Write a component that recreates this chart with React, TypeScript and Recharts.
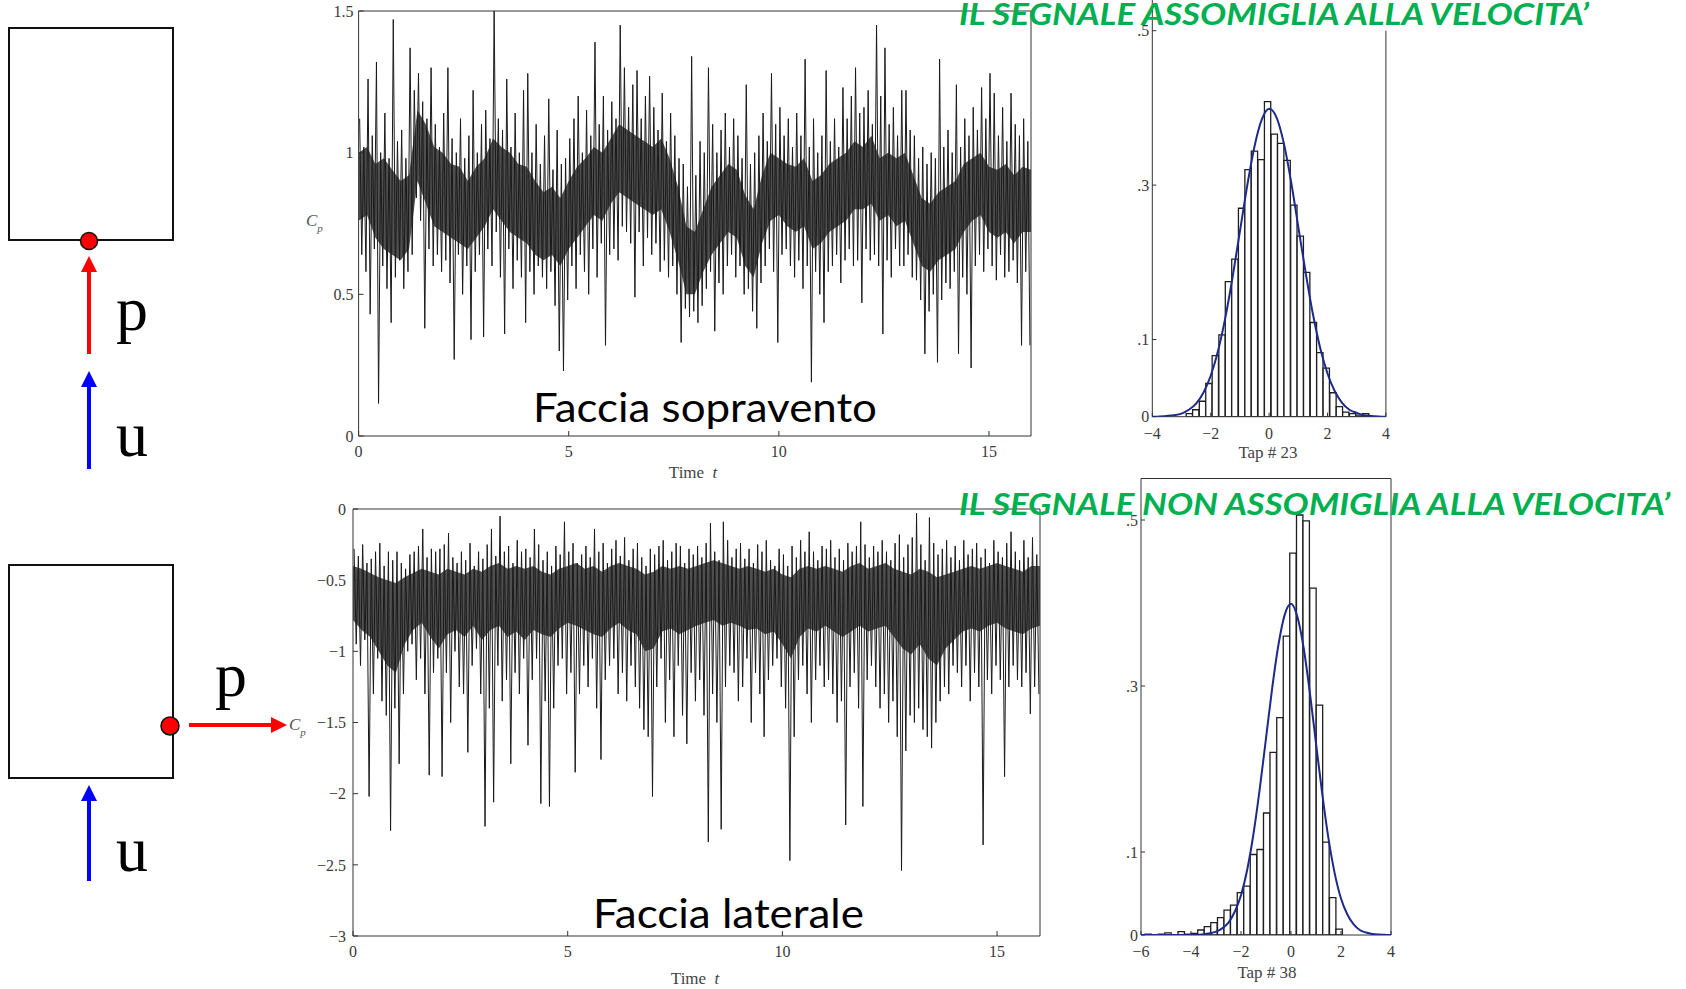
import React from "react";
import { Area, Bar, ComposedChart, Line, XAxis, YAxis } from "recharts";

const serif = "'Liberation Serif', 'DejaVu Serif', serif";
const sans = "Lato, 'Open Sans', sans-serif";
const axisColor = "#333";
const tickFont = { fontSize: 16, fontFamily: serif, fill: "#3a3a3a" };
const green = "#00b050";

const minus = (v: number) => String(v).replace("-", "\u2212");
const shortFrac = (v: number) => (v === 0 ? "0" : String(v).replace("0.", "."));

// Cp on the upwind face: max and min inside each 0.1 s slice of the record
const sopraHi = [
  1.12, 1.02, 1.26, 1.06, 1.32, 1.0, 1.14, 0.98, 1.47, 1.04,
  1.08, 0.98, 1.37, 1.22, 1.28, 1.18, 1.12, 1.3, 1.1, 1.02,
  1.14, 1.3, 1.05, 1.0, 1.12, 0.98, 1.06, 1.22, 1.0, 1.1,
  1.15, 1.05, 1.5, 1.12, 1.08, 1.26, 1.02, 1.14, 1.0, 1.22,
  1.28, 1.0, 1.1, 0.96, 1.06, 1.19, 0.94, 1.08, 0.96, 0.98,
  1.05, 1.12, 1.2, 1.0, 1.15, 1.06, 1.39, 1.1, 1.2, 1.08,
  1.18, 1.12, 1.45, 1.3, 1.16, 1.24, 1.29, 1.12, 1.2, 1.27,
  1.16, 1.08, 1.21, 1.04, 1.14, 1.06, 0.98, 0.96, 0.88, 1.34,
  0.92, 1.04, 1.0, 1.3, 1.1, 1.0, 1.08, 1.14, 1.02, 1.12,
  1.06, 0.98, 1.24, 0.96, 1.0, 1.06, 1.14, 1.04, 1.28, 1.1,
  1.16, 1.06, 1.12, 1.02, 1.14, 1.06, 1.33, 1.02, 1.12, 1.0,
  1.06, 1.29, 1.04, 1.12, 1.02, 1.23, 1.12, 1.2, 1.3, 1.14,
  1.16, 1.22, 1.1, 1.45, 1.2, 1.37, 1.1, 1.16, 1.06, 1.22,
  1.22, 1.08, 1.06, 0.98, 1.02, 0.96, 1.0, 0.98, 1.33, 1.02,
  1.08, 1.0, 1.24, 1.02, 1.12, 1.06, 1.16, 1.08, 1.23, 1.12,
  1.28, 1.21, 1.06, 1.16, 1.04, 1.21, 1.1, 1.06, 1.12, 1.04,
];
const sopraLo = [
  0.64, 0.58, 0.43, 0.66, 0.115, 0.6, 0.52, 0.4, 0.56, 0.62,
  0.52, 0.58, 0.64, 0.84, 0.76, 0.38, 0.66, 0.6, 0.64, 0.58,
  0.62, 0.54, 0.27, 0.64, 0.5, 0.6, 0.34, 0.58, 0.64, 0.35,
  0.66, 0.6, 0.72, 0.56, 0.36, 0.66, 0.52, 0.62, 0.56, 0.4,
  0.58, 0.5, 0.6, 0.56, 0.52, 0.58, 0.46, 0.3, 0.23, 0.48,
  0.6, 0.52, 0.64, 0.58, 0.5, 0.66, 0.56, 0.68, 0.32, 0.64,
  0.66, 0.62, 0.74, 0.72, 0.68, 0.49, 0.72, 0.6, 0.7, 0.64,
  0.68, 0.58, 0.62, 0.56, 0.6, 0.5, 0.33, 0.45, 0.42, 0.44,
  0.4, 0.46, 0.52, 0.58, 0.37, 0.54, 0.5, 0.6, 0.64, 0.56,
  0.6, 0.5, 0.52, 0.44, 0.38, 0.54, 0.6, 0.66, 0.58, 0.33,
  0.64, 0.66, 0.6, 0.56, 0.62, 0.52, 0.6, 0.19, 0.58, 0.5,
  0.4, 0.58, 0.6, 0.64, 0.54, 0.62, 0.66, 0.6, 0.62, 0.47,
  0.66, 0.62, 0.64, 0.6, 0.36, 0.62, 0.56, 0.66, 0.6, 0.6,
  0.64, 0.56, 0.55, 0.48, 0.29, 0.44, 0.5, 0.26, 0.48, 0.54,
  0.52, 0.58, 0.29, 0.56, 0.5, 0.24, 0.6, 0.64, 0.58, 0.66,
  0.6, 0.55, 0.64, 0.56, 0.58, 0.62, 0.54, 0.32, 0.58, 0.32,
];
// dense dark band of each trace, read every 0.2 s
const coreTimes = [
  0, 0.2, 0.4, 0.6, 0.8, 1, 1.2, 1.4, 1.6, 1.8, 2, 2.2, 2.4, 2.6, 2.8, 3, 3.2, 3.4, 3.6, 3.8,
  4, 4.2, 4.4, 4.6, 4.8, 5, 5.2, 5.4, 5.6, 5.8, 6, 6.2, 6.4, 6.6, 6.8, 7, 7.2, 7.4, 7.6, 7.8,
  8, 8.2, 8.4, 8.6, 8.8, 9, 9.2, 9.4, 9.6, 9.8, 10, 10.2, 10.4, 10.6, 10.8, 11, 11.2, 11.4, 11.6, 11.8,
  12, 12.2, 12.4, 12.6, 12.8, 13, 13.2, 13.4, 13.6, 13.8, 14, 14.2, 14.4, 14.6, 14.8, 15, 15.2, 15.4, 15.6, 15.8,
  16,
];
const sopraCoreHi = [
  1.0, 1.02, 0.96, 0.98, 0.94, 0.9, 0.92, 1.15, 1.1, 1.02, 1.0, 0.96, 0.95, 0.9, 0.95, 0.98, 1.05, 1.02, 1.0, 0.96,
  0.95, 0.9, 0.86, 0.88, 0.84, 0.9, 0.95, 0.98, 1.02, 1.0, 1.05, 1.1, 1.08, 1.06, 1.04, 1.02, 1.05, 0.98, 0.88, 0.74,
  0.72, 0.8, 0.88, 0.92, 0.96, 0.94, 0.85, 0.8, 0.92, 1.0, 0.98, 0.96, 0.95, 0.98, 0.9, 0.92, 0.96, 0.98, 1.0, 1.04,
  1.02, 1.06, 0.98, 1.0, 0.98, 1.0, 0.92, 0.84, 0.82, 0.86, 0.88, 0.9, 0.96, 0.98, 1.0, 0.95, 0.94, 0.96, 0.92, 0.95,
  0.94,
];
const sopraCoreLo = [
  0.76, 0.78, 0.7, 0.66, 0.64, 0.62, 0.66, 0.9, 0.82, 0.74, 0.72, 0.7, 0.68, 0.66, 0.7, 0.74, 0.8, 0.76, 0.72, 0.7,
  0.68, 0.64, 0.62, 0.64, 0.6, 0.66, 0.7, 0.74, 0.78, 0.76, 0.82, 0.86, 0.84, 0.82, 0.8, 0.78, 0.8, 0.72, 0.62, 0.5,
  0.5, 0.58, 0.64, 0.68, 0.72, 0.7, 0.6, 0.56, 0.68, 0.76, 0.78, 0.74, 0.72, 0.74, 0.66, 0.68, 0.72, 0.74, 0.76, 0.8,
  0.8, 0.82, 0.76, 0.78, 0.74, 0.76, 0.68, 0.6, 0.58, 0.62, 0.64, 0.66, 0.72, 0.76, 0.78, 0.72, 0.7, 0.72, 0.68, 0.72,
  0.72,
];

// Cp on the side face, same slicing
const lateraleHi = [
  -0.28, -0.33, -0.25, -0.38, -0.35, -0.3, -0.24, -0.4, -0.3, -0.36,
  -0.3, -0.38, -0.42, -0.32, -0.3, -0.26, -0.14, -0.34, -0.28, -0.3,
  -0.28, -0.25, -0.17, -0.34, -0.38, -0.3, -0.36, -0.24, -0.4, -0.3,
  -0.35, -0.25, -0.14, -0.33, -0.05, -0.3, -0.26, -0.38, -0.22, -0.3,
  -0.28, -0.34, -0.14, -0.25, -0.36, -0.3, -0.4, -0.26, -0.32, -0.09,
  -0.3, -0.24, -0.38, -0.32, -0.26, -0.34, -0.14, -0.3, -0.24, -0.38,
  -0.28, -0.22, -0.33, -0.2, -0.36, -0.28, -0.24, -0.34, -0.4, -0.28,
  -0.32, -0.26, -0.22, -0.36, -0.3, -0.24, -0.26, -0.38, -0.28, -0.32,
  -0.26, -0.34, -0.24, -0.1, -0.3, -0.36, -0.09, -0.22, -0.34, -0.28,
  -0.24, -0.35, -0.28, -0.38, -0.25, -0.3, -0.22, -0.36, -0.4, -0.28,
  -0.32, -0.4, -0.26, -0.34, -0.22, -0.3, -0.16, -0.3, -0.36, -0.26,
  -0.28, -0.22, -0.34, -0.28, -0.36, -0.24, -0.3, -0.26, -0.09, -0.25,
  -0.34, -0.26, -0.3, -0.22, -0.3, -0.36, -0.24, -0.18, -0.34, -0.25,
  -0.2, -0.03, -0.25, -0.36, -0.06, -0.24, -0.32, -0.28, -0.22, -0.34,
  -0.26, -0.36, -0.22, -0.32, -0.28, -0.24, -0.34, -0.28, -0.38, -0.22,
  -0.3, -0.34, -0.24, -0.16, -0.3, -0.36, -0.22, -0.34, -0.2, -0.32,
];
const lateraleLo = [
  -0.95, -1.1, -0.92, -2.02, -1.3, -1.05, -1.35, -1.45, -2.26, -1.4,
  -1.79, -1.3, -1.0, -0.95, -1.2, -1.05, -1.3, -1.87, -1.15, -1.05,
  -1.88, -1.15, -1.5, -1.0, -1.25, -1.3, -1.71, -1.1, -0.98, -1.3,
  -2.23, -1.4, -2.06, -1.1, -1.35, -1.2, -1.79, -1.15, -1.3, -1.05,
  -1.66, -1.2, -1.05, -2.07, -1.35, -2.09, -1.4, -1.1, -1.05, -1.3,
  -1.15, -1.85, -1.3, -1.1, -1.25, -1.05, -1.4, -1.76, -1.2, -1.1,
  -1.05, -1.3, -1.15, -1.35, -1.1, -1.25, -1.4, -1.55, -1.6, -2.02,
  -1.25, -1.05, -1.5, -1.2, -1.6, -1.1, -1.45, -1.65, -1.15, -1.35,
  -1.2, -1.45, -2.34, -1.3, -1.5, -2.25, -1.25, -1.1, -1.15, -1.35,
  -1.25, -1.05, -1.5, -1.15, -1.3, -1.6, -1.2, -1.1, -1.05, -1.25,
  -1.4, -2.47, -1.6, -1.2, -1.1, -1.3, -1.5, -1.2, -1.1, -1.25,
  -1.2, -1.3, -1.5, -1.35, -2.22, -1.25, -1.15, -1.4, -2.09, -1.2,
  -1.1, -1.25, -1.4, -1.3, -1.5, -1.35, -1.6, -2.54, -1.7, -1.45,
  -1.5, -1.4, -1.55, -1.6, -1.68, -1.5, -1.35, -1.25, -1.3, -1.1,
  -1.15, -1.25, -1.1, -1.35, -1.15, -1.25, -2.36, -1.2, -1.3, -1.1,
  -1.2, -1.88, -1.25, -1.1, -1.2, -1.25, -1.15, -1.44, -1.25, -1.3,
];
const lateraleCoreHi = [
  -0.4, -0.42, -0.45, -0.48, -0.5, -0.52, -0.48, -0.45, -0.42, -0.44, -0.46, -0.42, -0.44, -0.46, -0.42, -0.44, -0.4, -0.38, -0.42, -0.4,
  -0.42, -0.4, -0.44, -0.46, -0.42, -0.4, -0.38, -0.42, -0.4, -0.44, -0.4, -0.38, -0.4, -0.42, -0.46, -0.44, -0.4, -0.42, -0.4, -0.42,
  -0.4, -0.38, -0.36, -0.38, -0.4, -0.42, -0.4, -0.42, -0.44, -0.42, -0.46, -0.48, -0.42, -0.4, -0.42, -0.4, -0.42, -0.44, -0.4, -0.38,
  -0.42, -0.4, -0.38, -0.42, -0.44, -0.46, -0.42, -0.44, -0.48, -0.46, -0.44, -0.42, -0.4, -0.42, -0.4, -0.38, -0.4, -0.42, -0.44, -0.4,
  -0.4,
];
const lateraleCoreLo = [
  -0.78, -0.85, -0.9, -1.0, -1.1, -1.15, -0.95, -0.85, -0.8, -0.9, -0.98, -0.88, -0.85, -0.9, -0.82, -0.92, -0.85, -0.82, -0.9, -0.86,
  -0.92, -0.85, -0.88, -0.9, -0.84, -0.8, -0.82, -0.85, -0.88, -0.9, -0.84, -0.8, -0.85, -0.88, -1.0, -0.98, -0.86, -0.84, -0.88, -0.85,
  -0.82, -0.8, -0.78, -0.82, -0.8, -0.82, -0.85, -0.84, -0.88, -0.86, -0.95, -1.05, -0.9, -0.84, -0.86, -0.82, -0.86, -0.9, -0.86, -0.82,
  -0.86, -0.84, -0.82, -0.9, -0.98, -1.02, -0.95, -1.05, -1.1, -0.98, -0.92, -0.86, -0.84, -0.86, -0.82, -0.8, -0.84, -0.86, -0.88, -0.84,
  -0.82,
];

// Tap # 23 histogram
const tap23Bins = [
  -2.73, -2.51, -2.28, -2.06, -1.84, -1.61, -1.39, -1.17, -0.94, -0.72, -0.5, -0.27, -0.05, 0.18,
  0.4, 0.62, 0.85, 1.07, 1.29, 1.52, 1.74, 1.96, 2.19, 2.41, 2.63, 2.86, 3.08, 3.31,
];
const tap23Freq = [
  0.004, 0.009, 0.02, 0.043, 0.079, 0.106, 0.175, 0.204, 0.27, 0.32, 0.344, 0.333, 0.408, 0.366,
  0.354, 0.332, 0.274, 0.234, 0.187, 0.122, 0.083, 0.063, 0.031, 0.013, 0.006, 0.004, 0.002, 0.004,
];
const gauss23X = [
  -4, -3.75, -3.5, -3.25, -3, -2.75, -2.5, -2.25, -2, -1.75, -1.5, -1.25, -1, -0.75, -0.5, -0.25, 0,
  0.25, 0.5, 0.75, 1, 1.25, 1.5, 1.75, 2, 2.25, 2.5, 2.75, 3, 3.25, 3.5, 3.75, 4,
];
const gauss23Y = [
  0, 0.0004, 0.001, 0.002, 0.004, 0.009, 0.017, 0.031, 0.053, 0.085, 0.128, 0.181, 0.24, 0.299, 0.35, 0.385, 0.399,
  0.388, 0.355, 0.305, 0.246, 0.187, 0.133, 0.089, 0.056, 0.033, 0.018, 0.009, 0.005, 0.002, 0.001, 0.0004, 0,
];

// Tap # 38 histogram
const tap38Bins = [
  -5.71, -5.45, -5.18, -4.92, -4.66, -4.39, -4.13, -3.87, -3.6, -3.34, -3.08, -2.81, -2.55, -2.29, -2.02,
  -1.76, -1.5, -1.23, -0.97, -0.71, -0.44, -0.18, 0.08, 0.35, 0.61, 0.88, 1.14, 1.4, 1.67, 1.93,
];
const tap38Freq = [
  0.001, 0, 0.001, 0.0025, 0, 0.004, 0.001, 0.002, 0.006, 0.01, 0.015, 0.021, 0.03, 0.036, 0.051,
  0.059, 0.097, 0.103, 0.147, 0.22, 0.262, 0.36, 0.46, 0.506, 0.499, 0.418, 0.277, 0.112, 0.045, 0.007,
];
const gauss38X = [
  -6, -5.5, -5, -4.5, -4, -3.75, -3.5, -3.25, -3, -2.75, -2.5, -2.25, -2, -1.75, -1.5, -1.25, -1, -0.75,
  -0.5, -0.25, 0, 0.25, 0.5, 0.75, 1, 1.25, 1.5, 1.75, 2, 2.25, 2.5, 2.75, 3, 3.25, 3.5, 3.75, 4,
];
const gauss38Y = [
  0, 0, 0, 0, 0, 0.0003, 0.0008, 0.002, 0.004, 0.008, 0.015, 0.028, 0.048, 0.079, 0.122, 0.176, 0.237, 0.298,
  0.35, 0.386, 0.399, 0.384, 0.347, 0.293, 0.231, 0.17, 0.116, 0.074, 0.044, 0.025, 0.013, 0.006, 0.003, 0.0012, 0.0005, 0.0002, 0,
];

type Row = { t: number; v?: number; core?: number[] };

// zig-zag between the max and the min of every slice, plus the dense band
const traceRows = (hi: number[], lo: number[], coreHi: number[], coreLo: number[]) => {
  const rows: Row[] = [];
  hi.forEach((h, i) => {
    rows.push({ t: i / 10 + 0.025, v: h });
    rows.push({ t: i / 10 + 0.075, v: lo[i] });
  });
  coreTimes.forEach((t, i) => rows.push({ t, core: [coreLo[i], coreHi[i]] }));
  return rows.sort((a, b) => a.t - b.t);
};

const sopraRows = traceRows(sopraHi, sopraLo, sopraCoreHi, sopraCoreLo);
const lateraleRows = traceRows(lateraleHi, lateraleLo, lateraleCoreHi, lateraleCoreLo);
const tap23Bars = tap23Bins.map((x, i) => ({ x, p: tap23Freq[i] }));
const tap23Curve = gauss23X.map((x, i) => ({ x, g: gauss23Y[i] }));
const tap38Bars = tap38Bins.map((x, i) => ({ x, p: tap38Freq[i] }));
const tap38Curve = gauss38X.map((x, i) => ({ x, g: gauss38Y[i] }));

const line = { stroke: axisColor, strokeWidth: 1 };

type Margin = { top: number; right: number; bottom: number; left: number };
// axes take 1px each, the margin is the plot box minus that
const inset = (m: Margin): Margin => ({ top: m.top - 1, right: m.right - 1, bottom: m.bottom - 1, left: m.left - 1 });

interface TraceProps {
  rows: Row[];
  yDomain: [number, number];
  yTicks: number[];
  width: number;
  height: number;
  plot: Margin;
  yGap: number;
}

const Trace = ({ rows, yDomain, yTicks, width, height, plot, yGap }: TraceProps) => (
  <ComposedChart width={width} height={height} data={rows} margin={inset(plot)}>
    <XAxis xAxisId="b" dataKey="t" type="number" domain={[0, 16]} ticks={[0, 5, 10, 15]}
      allowDataOverflow height={1} tickSize={-5} tickMargin={15} axisLine={line} tickLine={line} tick={tickFont} />
    <XAxis xAxisId="top" orientation="top" type="number" domain={[0, 16]} ticks={[0, 5, 10, 15]}
      allowDataOverflow height={1} tickSize={-5} axisLine={line} tickLine={line} tick={false} />
    <YAxis yAxisId="l" type="number" domain={yDomain} ticks={yTicks} allowDataOverflow width={1}
      tickSize={-5} tickMargin={yGap} axisLine={line} tickLine={line} tick={tickFont} tickFormatter={minus} />
    <YAxis yAxisId="r" orientation="right" type="number" domain={yDomain} ticks={yTicks} allowDataOverflow
      width={1} tickSize={-5} axisLine={line} tickLine={line} tick={false} />
    <Area xAxisId="b" yAxisId="l" dataKey="core" type="linear" connectNulls stroke="none"
      fill="#1e1e1e" fillOpacity={0.78} isAnimationActive={false} />
    <Line xAxisId="b" yAxisId="l" dataKey="v" type="linear" connectNulls stroke="#1a1a1a"
      strokeWidth={1} dot={false} isAnimationActive={false} />
  </ComposedChart>
);

interface HistProps {
  bars: { x: number; p: number }[];
  curve: { x: number; g: number }[];
  xDomain: [number, number];
  xTicks: number[];
  yDomain: [number, number];
  width: number;
  height: number;
  plot: Margin;
  barSize: number;
  frameTop: boolean;
}

const layer: React.CSSProperties = { position: "absolute", left: 0, top: 0 };

const Hist = ({ bars, curve, xDomain, xTicks, yDomain, width, height, plot, barSize, frameTop }: HistProps) => (
  <>
    <div style={layer}>
      <ComposedChart width={width} height={height} data={bars} margin={inset(plot)}>
        <XAxis xAxisId="b" dataKey="x" type="number" domain={xDomain} ticks={xTicks} allowDataOverflow
          height={1} tickSize={-4} tickMargin={15} axisLine={line} tickLine={line} tick={tickFont} tickFormatter={minus} />
        <XAxis xAxisId="top" orientation="top" type="number" domain={xDomain} ticks={xTicks} allowDataOverflow height={1}
          axisLine={frameTop ? line : false} tickLine={false} tick={false} />
        <YAxis yAxisId="l" type="number" domain={yDomain} ticks={[0, 0.1, 0.3, 0.5]} allowDataOverflow width={1}
          tickSize={-4} tickMargin={7} axisLine={line} tickLine={line} tick={tickFont} tickFormatter={shortFrac} />
        <YAxis yAxisId="r" orientation="right" type="number" domain={yDomain} ticks={[0, 0.1, 0.3, 0.5]}
          allowDataOverflow width={1} tickSize={-4} axisLine={line} tickLine={line} tick={false} />
        <Bar xAxisId="b" yAxisId="l" dataKey="p" barSize={barSize} fill="#fff" stroke="#1e1e1e"
          strokeWidth={1.3} isAnimationActive={false} />
      </ComposedChart>
    </div>
    <div style={layer}>
      <ComposedChart width={width} height={height} data={curve} margin={plot}>
        <XAxis dataKey="x" type="number" domain={xDomain} allowDataOverflow hide />
        <YAxis type="number" domain={yDomain} allowDataOverflow hide />
        <Line dataKey="g" type="monotone" stroke="#1d2a8a" strokeWidth={2} dot={false} isAnimationActive={false} />
      </ComposedChart>
    </div>
  </>
);

const Arrow = ({ x1, y1, x2, y2, color }: { x1: number; y1: number; x2: number; y2: number; color: string }) => {
  const len = Math.hypot(x2 - x1, y2 - y1);
  const ux = (x2 - x1) / len;
  const uy = (y2 - y1) / len;
  const bx = x2 - ux * 16;
  const by = y2 - uy * 16;
  return (
    <g>
      <line x1={x1} y1={y1} x2={bx} y2={by} stroke={color} strokeWidth={4} />
      <polygon points={`${x2},${y2} ${bx - uy * 8},${by + ux * 8} ${bx + uy * 8},${by - ux * 8}`} fill={color} />
    </g>
  );
};

const box = (left: number, top: number, w: number, h: number): React.CSSProperties => ({
  position: "absolute",
  left,
  top,
  width: w,
  height: h,
  overflow: "hidden",
});

export default function App() {
  return (
    <div style={{ position: "absolute", left: 0, top: 0, width: 1686, height: 989, background: "#fff", overflow: "hidden" }}>
      <div style={box(280, 0, 780, 490)}>
        <Trace rows={sopraRows} yDomain={[0, 1.5]} yTicks={[0, 0.5, 1, 1.5]} width={780} height={490}
          plot={{ top: 11, right: 29, bottom: 54, left: 78.6 }} yGap={10} />
      </div>
      <div style={box(280, 490, 780, 499)}>
        <Trace rows={lateraleRows} yDomain={[-3, 0]} yTicks={[-3, -2.5, -2, -1.5, -1, -0.5, 0]} width={780} height={499}
          plot={{ top: 19, right: 20, bottom: 53, left: 73 }} yGap={12} />
      </div>
      <div style={box(1124, 0, 280, 470)}>
        <Hist bars={tap23Bars} curve={tap23Curve} xDomain={[-4, 4]} xTicks={[-4, -2, 0, 2, 4]} yDomain={[0, 0.5]}
          width={280} height={470} plot={{ top: 30.7, right: 18.1, bottom: 53.3, left: 28.3 }} barSize={6.3} frameTop={false} />
      </div>
      <div style={box(1110, 470, 300, 519)}>
        <Hist bars={tap38Bars} curve={tap38Curve} xDomain={[-6, 4]} xTicks={[-6, -4, -2, 0, 2, 4]} yDomain={[0, 0.55]}
          width={300} height={519} plot={{ top: 8.5, right: 19, bottom: 54, left: 31 }} barSize={6.4} frameTop />
      </div>

      <svg width={1686} height={989} style={{ position: "absolute", left: 0, top: 0, pointerEvents: "none" }}>
        {/* left frame of the upper histogram runs up under the heading */}
        <line x1={1152.3} y1={0} x2={1152.3} y2={31} stroke={axisColor} strokeWidth={1} />

        {/* building sketches */}
        <rect x={9} y={28} width={164} height={212} fill="none" stroke="#111" strokeWidth={2} />
        <Arrow x1={89} y1={354} x2={89} y2={256} color="#ff0000" />
        <circle cx={89} cy={241} r={8.5} fill="#ff0000" stroke="#111" strokeWidth={1.5} />
        <Arrow x1={89} y1={469} x2={89} y2={371} color="#0000ff" />
        <text x={116} y={330} fontFamily={serif} fontSize={64} fill="#000">p</text>
        <text x={116} y={456} fontFamily={serif} fontSize={64} fill="#000">u</text>

        <rect x={9} y={565} width={164} height={213} fill="none" stroke="#111" strokeWidth={2} />
        <Arrow x1={189} y1={725} x2={287} y2={725} color="#ff0000" />
        <circle cx={170} cy={726} r={9} fill="#ff0000" stroke="#111" strokeWidth={1.5} />
        <Arrow x1={89} y1={881} x2={89} y2={785} color="#0000ff" />
        <text x={215} y={696} fontFamily={serif} fontSize={64} fill="#000">p</text>
        <text x={116} y={871} fontFamily={serif} fontSize={64} fill="#000">u</text>

        {/* axis titles */}
        <text x={306} y={226} fontFamily={serif} fontSize={17} fontStyle="italic" fill="#555">
          C<tspan dy={6} fontSize={11}>p</tspan>
        </text>
        <text x={289} y={730} fontFamily={serif} fontSize={17} fontStyle="italic" fill="#555">
          C<tspan dy={6} fontSize={11}>p</tspan>
        </text>
        <text x={693} y={478} textAnchor="middle" fontFamily={serif} fontSize={17} fill="#444">
          Time <tspan dx={4} fontStyle="italic">t</tspan>
        </text>
        <text x={695} y={984} textAnchor="middle" fontFamily={serif} fontSize={17} fill="#444">
          Time <tspan dx={4} fontStyle="italic">t</tspan>
        </text>
        <text x={1268} y={458} textAnchor="middle" fontFamily={serif} fontSize={17} fill="#444">Tap # 23</text>
        <text x={1267} y={978} textAnchor="middle" fontFamily={serif} fontSize={17} fill="#444">Tap # 38</text>

        {/* slide captions */}
        <text x={533} y={422} fontFamily={sans} fontSize={40} fill="#000" textLength={344} lengthAdjust="spacingAndGlyphs">
          Faccia sopravento
        </text>
        <text x={593} y={928} fontFamily={sans} fontSize={40} fill="#000" textLength={271} lengthAdjust="spacingAndGlyphs">
          Faccia laterale
        </text>
        <text x={959} y={25} fontFamily={sans} fontSize={31} fontWeight={700} fontStyle="italic" fill={green}
          textLength={630} lengthAdjust="spacingAndGlyphs">
          IL SEGNALE ASSOMIGLIA ALLA VELOCITA’
        </text>
        <text x={959} y={515} fontFamily={sans} fontSize={31} fontWeight={700} fontStyle="italic" fill={green}
          textLength={711} lengthAdjust="spacingAndGlyphs">
          IL SEGNALE NON ASSOMIGLIA ALLA VELOCITA’
        </text>
      </svg>
    </div>
  );
}
